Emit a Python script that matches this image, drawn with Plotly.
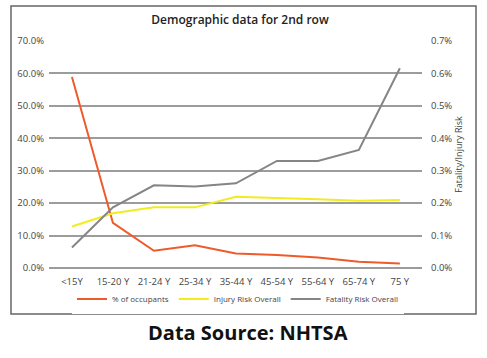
import plotly.graph_objects as go

categories = ["<15Y", "15-20 Y", "21-24 Y", "25-34 Y", "35-44 Y", "45-54 Y", "55-64 Y", "65-74 Y", "75 Y"]
occupants_pct = [58.9, 13.9, 5.3, 7.0, 4.5, 4.0, 3.2, 1.9, 1.4]
injury_risk = [0.128, 0.169, 0.187, 0.187, 0.220, 0.217, 0.212, 0.207, 0.210]
fatality_risk = [0.063, 0.187, 0.255, 0.251, 0.261, 0.330, 0.330, 0.364, 0.616]

left_ticks = [0, 10, 20, 30, 40, 50, 60, 70]
right_ticks = [0, 0.1, 0.2, 0.3, 0.4, 0.5, 0.6, 0.7]

FONT = "Open Sans"
L, R, T, B = 49, 65, 41, 90
PW, PH = 487 - L - R, 358 - T - B

def px(x):
    return (x - L) / PW

def py(y):
    return (358 - B - y) / PH

fig = go.Figure()
fig.add_trace(go.Scatter(x=categories, y=occupants_pct, name="% of occupants", mode="lines",
                         line=dict(color="#EE5B2B", width=2), yaxis="y"))
fig.add_trace(go.Scatter(x=categories, y=injury_risk, name="Injury Risk Overall", mode="lines",
                         line=dict(color="#F2EC1E", width=2), yaxis="y2"))
fig.add_trace(go.Scatter(x=categories, y=fatality_risk, name="Fatality Risk Overall", mode="lines",
                         line=dict(color="#858585", width=2), yaxis="y2"))

fig.update_layout(
    width=487, height=358,
    margin=dict(l=L, r=R, t=T, b=B, autoexpand=False),
    paper_bgcolor="white", plot_bgcolor="white",
    font=dict(family=FONT, color="#444", size=9),
    showlegend=True,
    legend=dict(orientation="h", x=px(238), xanchor="center", y=py(299), yanchor="middle",
                font=dict(size=8, color="#444"), itemwidth=30, tracegroupgap=0),
    xaxis=dict(range=[-0.56, 8.54], showgrid=False, showline=False, ticks="", automargin=False,
               tickfont=dict(size=9.5, color="#444"), fixedrange=True, ticklabelstandoff=6),
    yaxis=dict(range=[0, 70], tickvals=left_ticks, ticktext=[f"{v:.1f}%" for v in left_ticks],
               showgrid=True, gridcolor="#9c9c9c", gridwidth=1.5, zeroline=True,
               zerolinecolor="#9c9c9c", zerolinewidth=1.5, fixedrange=True,
               automargin=False, tickfont=dict(size=9.5, color="#444"), ticklabelstandoff=4),
    yaxis2=dict(range=[0, 0.7], overlaying="y", side="right", automargin=False, fixedrange=True,
                tickvals=right_ticks, ticktext=[f"{v:.1f}%" for v in right_ticks],
                showgrid=False, zeroline=False, ticklabelstandoff=8,
                tickfont=dict(size=9.5, color="#444"),
                title=dict(text="Fatality/Injury Risk", font=dict(size=9, color="#444"), standoff=2)),
    title=dict(text="Demographic data for 2nd row", xref="container", x=240 / 487, xanchor="center",
               yref="container", y=1 - 20 / 358, yanchor="middle",
               font=dict(size=12, color="#222", family=FONT, weight=600)),
    shapes=[dict(type="rect", xref="paper", yref="paper", x0=px(11), x1=px(476),
                 y0=py(314), y1=py(6), line=dict(color="#666", width=1.5))],
    annotations=[dict(text="<b>Data Source: NHTSA</b>", x=px(248), y=py(332),
                      xref="paper", yref="paper", showarrow=False, xanchor="center", yanchor="middle",
                      font=dict(size=20, color="#111", family=FONT))],
)
fig.write_html("out.html", config={"displayModeBar": False})
with open("out.html", encoding="utf-8") as f:
    html = f.read()
html = html.replace("<head>", "<head><style>html,body{margin:0;padding:0;}</style>", 1)
with open("out.html", "w", encoding="utf-8") as f:
    f.write(html)
